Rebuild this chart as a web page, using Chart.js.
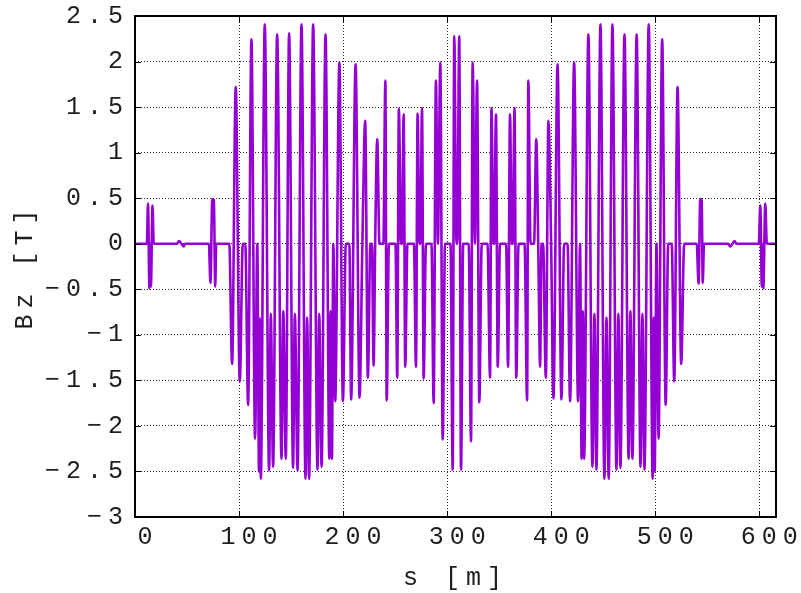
<!DOCTYPE html>
<html>
<head>
<meta charset="utf-8">
<script src="https://cdn.jsdelivr.net/npm/chart.js@4.4.0/dist/chart.umd.min.js"></script>
<style>
  html, body { margin: 0; padding: 0; background: #fff; overflow: hidden; }
  #wrap { position: relative; width: 801px; height: 610px; }
</style>
</head>
<body>
<div id="wrap"><canvas id="bzChart"></canvas></div>
<script>
// Field profile: s [m] and Bz [T] at the turning points
const sPos = [
  0, 11.4, 12.5, 13.9, 14.6, 15.3, 16.8, 18.0,
  40.5, 42.3, 46.8, 48.3,
  71.0, 72.5, 74.3, 75.8, 77.1, 78.0,
  90.6, 93.3, 96.8, 100.7, 103.6, 106.0, 108.7, 111.9, 115.4, 117.5,
  119.2, 119.9, 120.9, 124.7, 128.9, 130.5, 132.7, 136.6, 140.8, 142.5,
  144.9, 148.1, 151.9, 153.6, 156.2, 160.0, 163.9, 165.4, 167.3, 171.2,
  175.4, 177.0, 179.3, 183.1, 186.8, 188.0, 189.2, 190.6, 192.4, 196.4,
  199.8, 202.6, 206.0, 207.7, 212.0, 215.8, 218.5, 221.2, 223.8, 226.2,
  227.7, 229.3, 230.8, 232.8, 234.9, 238.7, 240.6, 241.9, 244.0, 250.3,
  252.0, 253.6, 255.6, 256.5, 258.2, 259.7, 261.8, 268.1, 270.0, 271.6,
  273.4, 274.3, 275.8, 277.4, 279.6, 284.9, 287.0, 289.2, 291.1, 293.4,
  295.7, 297.9, 303.2, 305.3, 306.8, 308.9, 309.7, 311.6, 313.3, 315.4,
  320.7, 322.9, 324.5, 326.7, 328.7, 330.9, 333.2, 338.8, 341.2, 342.6,
  344.5, 345.2, 346.9, 348.6, 350.8, 356.6, 358.5, 360.4, 362.1, 363.0,
  364.7, 366.4, 368.6, 374.4, 376.8, 378.0, 380.1, 383.5, 385.6, 387.5,
  389.3, 390.7, 392.2, 394.8, 397.3, 399.9, 402.1, 406.1, 409.8, 412.4,
  415.7, 418.1, 422.0, 425.8, 427.7, 429.2, 430.4, 431.6, 435.7, 439.6,
  441.5, 443.4, 447.3, 451.1, 453.1, 455.2, 458.8, 462.7, 464.5, 466.5,
  470.4, 474.4, 476.1, 478.0, 482.1, 485.8, 487.6, 489.6, 493.7, 497.5,
  498.5, 499.4, 501.2, 503.1, 506.6, 510.0, 512.4, 515.8, 518.2, 521.4,
  524.9, 527.8,
  539.8, 541.6, 543.2, 544.6, 545.6, 546.8,
  569.7, 572.1, 576.2, 577.8,
  599.5, 600.9, 602.4, 603.0, 603.8, 605.7, 607.2, 616
];
const bzVal = [
  0, 0, 0.44, -0.49, 0, -0.47, 0.42, 0,
  0, 0.03, -0.03, 0,
  0, -0.43, 0.49, 0.48, -0.47, 0,
  0, -1.32, 1.72, -1.51, 0, 0, -1.77, 2.245, -2.14, 0,
  -2.5, -0.82, -2.58, 2.41, -2.49, -0.77, -2.45, 2.30, -2.36, -0.74,
  -2.36, 2.31, -2.46, -0.77, -2.49, 2.41, -2.58, -0.81, -2.58, 2.41,
  -2.48, -0.77, -2.45, 2.30, -2.36, -0.74, -2.36, 0, -1.73, 1.99,
  -1.73, 0, 0, -1.71, 1.97, -1.69, 0, 1.35, -1.47, 0,
  0, -1.34, 0, 1.15, 0, 0, 1.79, -1.72, 0, 0,
  -1.47, 1.48, 0, 0, 1.42, -1.35, 0, 0, -1.35, 1.43,
  0, 0, 1.49, -1.48, 0, 0, -1.75, 1.79, 0, 1.99,
  -2.15, 0, 0, -2.48, 2.28, 0, 0, 2.28, -2.48, 0,
  0, -2.17, 1.99, 0, 1.79, -1.74, 0, 0, -1.47, 1.49,
  0, 0, 1.42, -1.35, 0, 0, -1.35, 1.42, 0, 0,
  1.49, -1.47, 0, 0, -1.72, 1.79, 0, 0, 1.15, 0,
  -1.35, 0, 0, -1.47, 1.35, 0, -1.70, 1.97, -1.71, 0,
  0, -1.73, 1.99, -1.73, 0, -2.36, -0.74, -2.36, 2.30, -2.45,
  -0.77, -2.48, 2.41, -2.58, -0.81, -2.58, 2.41, -2.48, -0.77, -2.46,
  2.30, -2.36, -0.74, -2.36, 2.30, -2.45, -0.77, -2.48, 2.41, -2.58,
  -0.81, -2.5, 0, -2.14, 2.245, -1.77, 0, 0, -1.51, 1.72,
  -1.32, 0,
  0, -0.44, 0.49, 0.48, -0.43, 0,
  0, -0.03, 0.03, 0,
  0, 0.42, -0.47, 0, -0.49, 0.44, 0, 0
];
const yTickStep = 0.5;
const xTickStep = 100;

const LINE_COLOR = '#9400d3';
const TEXT_COLOR = '#1e1e1e';
const FONT = { family: "'Liberation Mono', 'DejaVu Sans Mono', monospace", size: 25 };
const LETTER_SP = '6px';

// gnuplot-like wide letter spacing (canvas state is reset on resize, so set it each pass)
const spacing = {
  id: 'spacing',
  beforeUpdate(chart) { chart.ctx.letterSpacing = LETTER_SP; },
  beforeLayout(chart) { chart.ctx.letterSpacing = LETTER_SP; },
  beforeDraw(chart) { chart.ctx.letterSpacing = LETTER_SP; }
};

// solid frame around the plot with small inward tick marks
const frame = {
  id: 'frame',
  afterDraw(chart) {
    const { ctx, chartArea: a, scales: { x, y } } = chart;
    ctx.save();
    ctx.setLineDash([]);
    ctx.strokeStyle = '#000';
    ctx.lineWidth = 1;
    ctx.beginPath();
    x.ticks.forEach(t => {
      const px = Math.round(x.getPixelForValue(t.value)) + 0.5;
      ctx.moveTo(px, a.bottom); ctx.lineTo(px, a.bottom - 6);
      ctx.moveTo(px, a.top); ctx.lineTo(px, a.top + 6);
    });
    y.ticks.forEach(t => {
      const py = Math.round(y.getPixelForValue(t.value)) + 0.5;
      ctx.moveTo(a.left, py); ctx.lineTo(a.left + 6, py);
      ctx.moveTo(a.right, py); ctx.lineTo(a.right - 6, py);
    });
    ctx.stroke();
    ctx.lineWidth = 2;
    ctx.strokeRect(a.left, a.top, a.right - a.left, a.bottom - a.top);
    ctx.restore();
  }
};

const points = sPos.map((s, i) => ({ x: s, y: bzVal[i] }));

new Chart(document.getElementById('bzChart'), {
  type: 'line',
  data: {
    datasets: [{
      data: points,
      borderColor: LINE_COLOR,
      borderWidth: 2.6,
      pointRadius: 0,
      fill: false,
      cubicInterpolationMode: 'monotone'
    }]
  },
  options: {
    responsive: true,
    maintainAspectRatio: false,
    devicePixelRatio: 1,
    animation: false,
    layout: { padding: { top: 16, right: 25, left: 0, bottom: 0 } },
    plugins: { legend: { display: false }, tooltip: { enabled: false } },
    scales: {
      x: {
        type: 'linear',
        min: 0,
        max: 616,
        border: { display: false, dash: [1, 2] },
        grid: { color: 'rgba(0,0,0,0.85)', lineWidth: 1, drawTicks: false },
        ticks: {
          stepSize: xTickStep,
          includeBounds: false,
          autoSkip: false,
          maxRotation: 0,
          font: FONT,
          color: TEXT_COLOR,
          padding: 5,
          labelOffset: 13
        },
        title: {
          display: true,
          text: 's [m]',
          font: FONT,
          color: TEXT_COLOR,
          padding: { top: 0, bottom: 17 }
        },
        afterFit(scale) {
          scale.height = 93;
          scale.paddingLeft = 0;
          scale.paddingRight = 0;
        }
      },
      y: {
        min: -3,
        max: 2.5,
        border: { display: false, dash: [1, 2] },
        grid: { color: 'rgba(0,0,0,0.85)', lineWidth: 1, drawTicks: false },
        ticks: {
          stepSize: yTickStep,
          font: FONT,
          color: TEXT_COLOR,
          padding: 6,
          callback: v => String(v).replace('-', '\u2212')
        },
        title: {
          display: true,
          text: 'Bz [T]',
          font: FONT,
          color: TEXT_COLOR,
          padding: { top: 10, bottom: 0 }
        },
        afterFit(scale) {
          scale.width = 135;
          scale.paddingTop = 0;
          scale.paddingBottom = 0;
        }
      }
    }
  },
  plugins: [spacing, frame]
});
</script>
</body>
</html>
